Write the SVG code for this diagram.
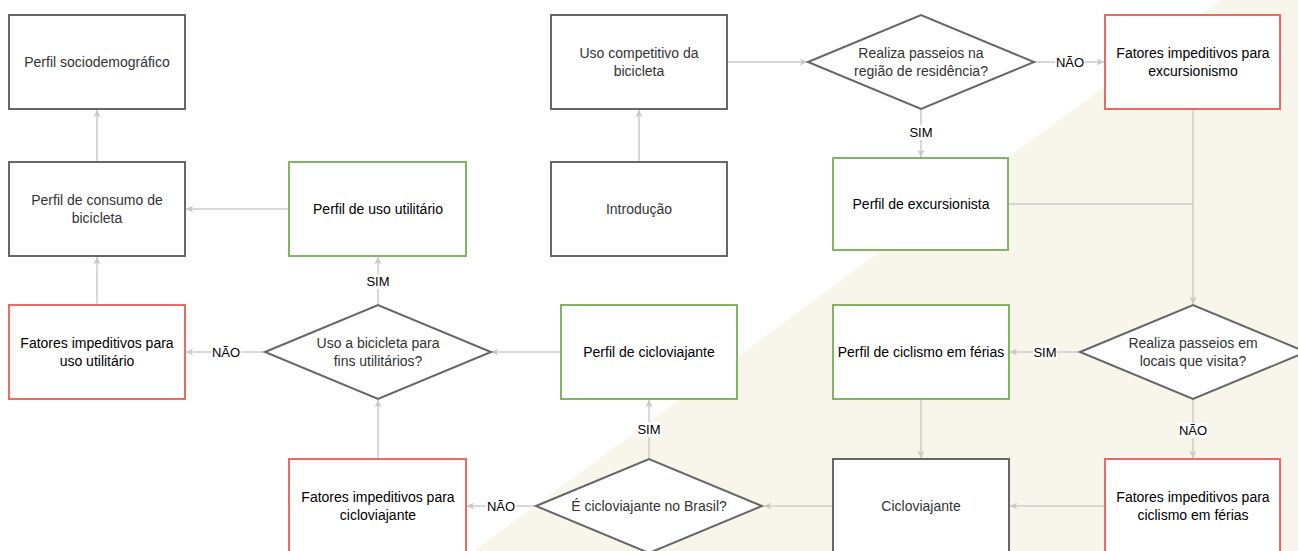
<svg xmlns="http://www.w3.org/2000/svg" width="1298" height="551" viewBox="0 0 1298 551">
<defs>
<style>
.n{fill:#fff;stroke:#666;stroke-width:2}
.g{fill:#fff;stroke:#82b366;stroke-width:2}
.r{fill:#fff;stroke:#ea6b66;stroke-width:2}
.t{font-family:"Liberation Sans",Arial,sans-serif;font-size:14px;text-anchor:middle;dominant-baseline:central}
.tg{fill:#333}
.tb{fill:#000}
.e{fill:none;stroke:#cccccc;stroke-width:1.5}
.lb{fill:#fff}
.l{font-family:"Liberation Sans",Arial,sans-serif;font-size:13px;text-anchor:middle;dominant-baseline:central;fill:#000}
</style>
<marker id="arr" viewBox="0 0 10 10" refX="9" refY="5" markerWidth="9" markerHeight="9" orient="auto" markerUnits="userSpaceOnUse">
<path d="M1,1 L9,5 L1,9 L3,5 z" fill="#c8c8c8"/>
</marker>
</defs>
<rect x="0" y="0" width="1298" height="551" fill="#fff"/>
<polygon points="1222,0 1298,0 1298,551 474,551" fill="#f8f5ea"/>

<g id="connectors">
<line class="e" x1="97" y1="162" x2="97" y2="110" marker-end="url(#arr)"/>
<line class="e" x1="289" y1="209" x2="186" y2="209" marker-end="url(#arr)"/>
<line class="e" x1="97" y1="305" x2="97" y2="257" marker-end="url(#arr)"/>
<line class="e" x1="378" y1="305" x2="378" y2="257" marker-end="url(#arr)"/>
<line class="e" x1="265" y1="352" x2="186" y2="352" marker-end="url(#arr)"/>
<line class="e" x1="561" y1="352" x2="491" y2="352" marker-end="url(#arr)"/>
<line class="e" x1="378" y1="459" x2="378" y2="400" marker-end="url(#arr)"/>
<line class="e" x1="536" y1="506" x2="467" y2="506" marker-end="url(#arr)"/>
<line class="e" x1="649" y1="459" x2="649" y2="400" marker-end="url(#arr)"/>
<line class="e" x1="833" y1="506" x2="764" y2="506" marker-end="url(#arr)"/>
<line class="e" x1="921" y1="399" x2="921" y2="458" marker-end="url(#arr)"/>
<line class="e" x1="1105" y1="506" x2="1010" y2="506" marker-end="url(#arr)"/>
<line class="e" x1="1080" y1="352" x2="1010" y2="352" marker-end="url(#arr)"/>
<line class="e" x1="1193" y1="399" x2="1193" y2="458" marker-end="url(#arr)"/>
<line class="e" x1="639" y1="162" x2="639" y2="110" marker-end="url(#arr)"/>
<line class="e" x1="727" y1="62" x2="807" y2="62" marker-end="url(#arr)"/>
<line class="e" x1="1034" y1="62" x2="1104" y2="62" marker-end="url(#arr)"/>
<line class="e" x1="921" y1="110" x2="921" y2="157" marker-end="url(#arr)"/>
<polyline class="e" points="1008,204 1193,204 1193,304" marker-end="url(#arr)"/>
<line class="e" x1="1193" y1="110" x2="1193" y2="204"/>
<rect class="lb" x="366" y="274" width="24" height="15"/>
<text class="l" x="378" y="281">SIM</text>
<rect class="lb" x="211" y="345" width="30" height="15"/>
<text class="l" x="226" y="352">NÃO</text>
<rect class="lb" x="486" y="499" width="30" height="15"/>
<text class="l" x="501" y="506">NÃO</text>
<rect class="lb" x="637" y="422" width="24" height="15"/>
<text class="l" x="649" y="429">SIM</text>
<rect class="lb" x="1033" y="345" width="24" height="15"/>
<text class="l" x="1045" y="352">SIM</text>
<rect class="lb" x="1178" y="423" width="30" height="15"/>
<text class="l" x="1193" y="430">NÃO</text>
<rect class="lb" x="1055" y="55" width="30" height="15"/>
<text class="l" x="1070" y="62">NÃO</text>
<rect class="lb" x="909" y="125" width="24" height="15"/>
<text class="l" x="921" y="132">SIM</text>
</g>

<g id="n-sociodemografico">
<rect class="n" x="9" y="15" width="176" height="94"/>
<text class="t tg" x="97" y="62">Perfil sociodemográfico</text>
</g>
<g id="n-consumo">
<rect class="n" x="9" y="162" width="176" height="94"/>
<text class="t tg" x="97" y="200">Perfil de consumo de</text>
<text class="t tg" x="97" y="218">bicicleta</text>
</g>
<g id="n-utilitario">
<rect class="g" x="289" y="162" width="177" height="94"/>
<text class="t tb" x="378" y="209">Perfil de uso utilitário</text>
</g>
<g id="n-competitivo">
<rect class="n" x="551" y="15" width="176" height="94"/>
<text class="t tg" x="639" y="53">Uso competitivo da</text>
<text class="t tg" x="639" y="71">bicicleta</text>
</g>
<g id="n-introducao">
<rect class="n" x="551" y="162" width="176" height="94"/>
<text class="t tg" x="639" y="209">Introdução</text>
</g>
<g id="n-d-residencia">
<polygon class="n" points="808,62 921,15 1034,62 921,109"/>
<text class="t tg" x="921" y="53">Realiza passeios na</text>
<text class="t tg" x="921" y="71">região de residência?</text>
</g>
<g id="n-excursionista">
<rect class="g" x="833" y="158" width="175" height="92"/>
<text class="t tb" x="921" y="204">Perfil de excursionista</text>
</g>
<g id="n-f-excursionismo">
<rect class="r" x="1105" y="15" width="175" height="94"/>
<text class="t tb" x="1193" y="53">Fatores impeditivos para</text>
<text class="t tb" x="1193" y="71">excursionismo</text>
</g>
<g id="n-f-utilitario">
<rect class="r" x="9" y="305" width="176" height="94"/>
<text class="t tb" x="97" y="343">Fatores impeditivos para</text>
<text class="t tb" x="97" y="361">uso utilitário</text>
</g>
<g id="n-d-utilitario">
<polygon class="n" points="265,352 378,305 491,352 378,399"/>
<text class="t tg" x="378" y="343">Uso a bicicleta para</text>
<text class="t tg" x="378" y="361">fins utilitários?</text>
</g>
<g id="n-p-cicloviajante">
<rect class="g" x="561" y="305" width="176" height="94"/>
<text class="t tb" x="649" y="352">Perfil de cicloviajante</text>
</g>
<g id="n-ferias">
<rect class="g" x="833" y="305" width="176" height="94"/>
<text class="t tb" x="921" y="352">Perfil de ciclismo em férias</text>
</g>
<g id="n-d-visita">
<polygon class="n" points="1080,352 1193,305 1306,352 1193,399"/>
<text class="t tg" x="1193" y="343">Realiza passeios em</text>
<text class="t tg" x="1193" y="361">locais que visita?</text>
</g>
<g id="n-f-cicloviajante">
<rect class="r" x="289" y="459" width="177" height="94"/>
<text class="t tb" x="378" y="497">Fatores impeditivos para</text>
<text class="t tb" x="378" y="515">cicloviajante</text>
</g>
<g id="n-d-brasil">
<polygon class="n" points="536,506 649,459 762,506 649,553"/>
<text class="t tg" x="649" y="506">É cicloviajante no Brasil?</text>
</g>
<g id="n-cicloviajante">
<rect class="n" x="833" y="459" width="176" height="94"/>
<text class="t tg" x="921" y="506">Cicloviajante</text>
</g>
<g id="n-f-ferias">
<rect class="r" x="1105" y="459" width="175" height="94"/>
<text class="t tb" x="1193" y="497">Fatores impeditivos para</text>
<text class="t tb" x="1193" y="515">ciclismo em férias</text>
</g>
</svg>
